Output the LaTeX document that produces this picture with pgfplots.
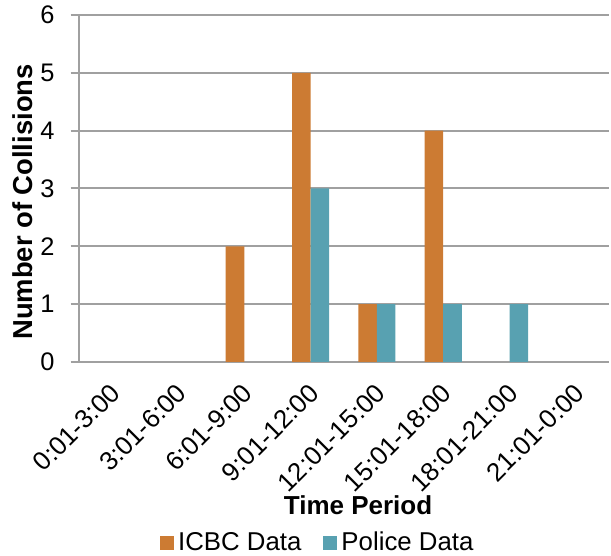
\documentclass[border=0pt]{standalone}
\usepackage{fontspec}
\setmainfont{Liberation Sans}
\usepackage{pgfplots}
\pgfplotsset{compat=1.18}
\definecolor{icbc}{RGB}{204,123,51}
\definecolor{police}{RGB}{88,161,177}
\definecolor{gridgray}{RGB}{160,160,160}
\begin{document}
\begin{tikzpicture}
\begin{axis}[
  scale only axis,
  width=265.25pt, height=173.5pt,
  xmin=-0.5, xmax=7.5,
  ymin=0, ymax=6,
  ytick={0,1,...,6},
  ymajorgrids,
  grid style={gridgray, line width=1pt},
  axis x line*=bottom,
  axis y line*=left,
  axis line style={gridgray, line width=1pt},
  tick style={gridgray, line width=1pt},
  major tick length=4pt,
  tick align=outside,
  xtick={0,...,7},
  xticklabels={0:01-3:00,3:01-6:00,6:01-9:00,9:01-12:00,12:01-15:00,15:01-18:00,18:01-21:00,21:01-0:00},
  x tick style={draw=none},
  extra x ticks={-0.5,0.5,...,7.5},
  extra x tick labels={},
  extra x tick style={grid=none, tick style={draw=gridgray, line width=1pt}, major tick length=4pt},
  xticklabel style={xshift=-1.5pt, yshift=-4.5pt, rotate=45, anchor=north east, font=\fontsize{13}{14}\selectfont, inner sep=1pt},
  yticklabel style={font=\fontsize{12.7}{14}\selectfont, anchor=east, xshift=-4.5pt},
  /pgf/number format/assume math mode=true,
  xlabel={\textbf{Time Period}},
  xlabel style={at={(axis description cs:0.527,-0.412)}, anchor=center, font=\fontsize{13}{15}\selectfont},
  ylabel={\textbf{Number of Collisions}},
  ylabel style={at={(axis description cs:-0.106,0.461)}, anchor=center, font=\fontsize{13.7}{15}\selectfont},
  legend style={at={(axis description cs:0.453,-0.522)}, anchor=center, draw=none, font=\fontsize{12.9}{15}\selectfont, legend columns=2, /tikz/every even column/.append style={column sep=9pt}},
  legend image code/.code={\fill[#1] (0pt,-3.5pt) rectangle (7pt,3.5pt);},
  clip=false,
]
\addplot[ybar, bar width=0.28, bar shift=-0.14, fill=icbc, draw=none] coordinates {(2,2) (3,5) (4,1) (5,4)};
\addlegendentry{ICBC Data}
\addplot[ybar, bar width=0.28, bar shift=0.14, fill=police, draw=none] coordinates {(3,3) (4,1) (5,1) (6,1)};
\addlegendentry{Police Data}
\coordinate (bbsw) at (axis description cs:-0.148,-0.559);
\coordinate (bbne) at (axis description cs:1.0038,1.0432);
\end{axis}
\pgfresetboundingbox
\path[use as bounding box] (bbsw) rectangle (bbne);
\end{tikzpicture}
\end{document}
